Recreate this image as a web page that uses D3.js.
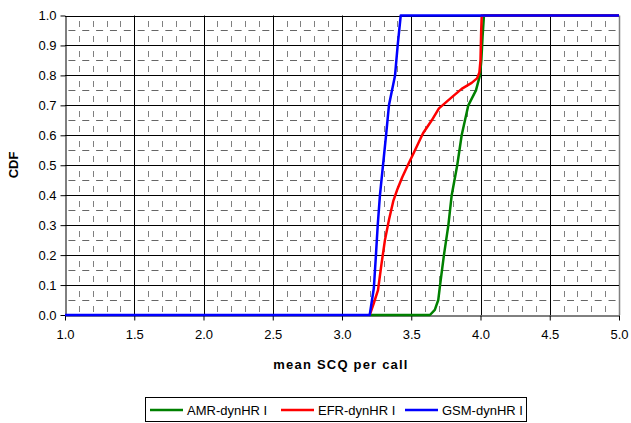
<!DOCTYPE html>
<html lang="en">
<head>
    <meta charset="utf-8">
    <title>CDF of mean SCQ per call</title>
    <script type="text/javascript" src="https://d3js.org/d3.v7.min.js"></script>
    <style type="text/css">
        body { margin: 0; overflow: hidden; background: #fff; }
        svg { display: block; }
        text { font-family: "Liberation Sans", Arial, sans-serif; }
    </style>
</head>
<body>
    <script type="text/javascript">
        // Series (x = mean SCQ, y = CDF)
        var amrX = [3.20, 3.635, 3.67, 3.695, 3.708, 3.736, 3.768, 3.792, 3.832, 3.864, 3.912, 3.967, 3.996, 4.006, 4.015, 4.025, 5.0];
        var amrY = [0, 0, 0.017, 0.05, 0.1, 0.2, 0.3, 0.4, 0.5, 0.6, 0.7, 0.75, 0.8, 0.85, 0.93, 1.0, 1.0];

        var efrX = [3.20, 3.23, 3.26, 3.285, 3.31, 3.34, 3.37, 3.40, 3.435, 3.47, 3.527, 3.585, 3.648, 3.70, 3.75, 3.80, 3.864, 3.936, 3.975, 3.992, 4.0, 4.005, 4.009, 5.0];
        var efrY = [0, 0.04, 0.083, 0.17, 0.25, 0.32, 0.38, 0.42, 0.46, 0.495, 0.55, 0.607, 0.65, 0.69, 0.71, 0.73, 0.755, 0.775, 0.79, 0.81, 0.85, 0.95, 1.0, 1.0];

        var gsmX = [1.0, 3.20, 3.23, 3.245, 3.258, 3.274, 3.296, 3.318, 3.339, 3.383, 3.402, 3.424, 5.0];
        var gsmY = [0, 0, 0.09, 0.2, 0.3, 0.4, 0.5, 0.6, 0.7, 0.8, 0.9, 1.0, 1.0];

        var seriesNames = ["AMR-dynHR I", "EFR-dynHR I", "GSM-dynHR I"];
        var seriesColors = ["#008000", "#ff0000", "#0000ff"];

        var xTicks = [1.0, 1.5, 2.0, 2.5, 3.0, 3.5, 4.0, 4.5, 5.0];
        var yTicks = [0.0, 0.1, 0.2, 0.3, 0.4, 0.5, 0.6, 0.7, 0.8, 0.9, 1.0];

        var width = 631, height = 423;
        var plotLeft = 65, plotRight = 619, plotTop = 15.5, plotBottom = 315;

        var svg = d3.select("body").append("svg")
            .attr("width", width)
            .attr("height", height);

        var x = d3.scaleLinear().domain([1, 5]).range([plotLeft, plotRight]);
        var y = d3.scaleLinear().domain([0, 1]).range([plotBottom, plotTop]);

        // minor gridlines (dashed grey)
        var minorX = d3.range(11, 50).map(function(d) { return d / 10; })
            .filter(function(d) { return Math.round(d * 10) % 5 !== 0; });
        var minorY = d3.range(0, 10).map(function(d) { return d / 10 + 0.05; });

        svg.append("g").selectAll("line")
            .data(minorX).enter().append("line")
            .attr("x1", function(d) { return Math.round(x(d)) + 0.5; })
            .attr("x2", function(d) { return Math.round(x(d)) + 0.5; })
            .attr("y1", plotBottom).attr("y2", plotTop)
            .attr("stroke", "#808080")
            .attr("stroke-dasharray", "6,9")
            .attr("stroke-dashoffset", -3);

        svg.append("g").selectAll("line")
            .data(minorY).enter().append("line")
            .attr("x1", plotLeft).attr("x2", plotRight)
            .attr("y1", function(d) { return Math.round(y(d)) + 0.5; })
            .attr("y2", function(d) { return Math.round(y(d)) + 0.5; })
            .attr("stroke", "#666")
            .attr("stroke-dasharray", "7,6.85")
            .attr("stroke-dashoffset", -3.4);

        // major gridlines
        svg.append("g").selectAll("line")
            .data(xTicks.slice(1)).enter().append("line")
            .attr("x1", function(d) { return Math.round(x(d)) + 0.5; })
            .attr("x2", function(d) { return Math.round(x(d)) + 0.5; })
            .attr("y1", plotBottom).attr("y2", plotTop)
            .attr("stroke", function(d) { return d === 5 ? "#808080" : "#000"; })
            .attr("stroke-width", function(d) { return d === 5 ? 1.5 : 1; });

        svg.append("g").selectAll("line")
            .data(yTicks.slice(1)).enter().append("line")
            .attr("x1", plotLeft).attr("x2", plotRight)
            .attr("y1", function(d) { return Math.round(y(d)) + 0.5; })
            .attr("y2", function(d) { return Math.round(y(d)) + 0.5; })
            .attr("stroke", "#000");

        // axes
        var xAxis = svg.append("g")
            .attr("transform", "translate(0," + (Math.round(plotBottom) + 0.5) + ")")
            .call(d3.axisBottom(x).tickValues(xTicks).tickSize(5).tickSizeOuter(0).tickFormat(d3.format(".1f")));
        xAxis.selectAll("text").attr("font-size", "13px").attr("dy", "1.2em").attr("fill", "#000");

        var yAxis = svg.append("g")
            .attr("transform", "translate(" + (plotLeft + 0.5) + ",0)")
            .call(d3.axisLeft(y).tickValues(yTicks).tickSize(5).tickSizeOuter(0).tickFormat(d3.format(".1f")));
        yAxis.selectAll("text").attr("font-size", "13px").attr("x", -9).attr("fill", "#000");
        svg.selectAll(".domain").attr("stroke", "#000");

        // curves
        var line = d3.line()
            .x(function(d) { return x(d[0]); })
            .y(function(d) { return y(d[1]); });

        var series = [
            d3.zip(amrX, amrY),
            d3.zip(efrX, efrY),
            d3.zip(gsmX, gsmY)
        ];

        svg.append("g").selectAll("path")
            .data(series).enter().append("path")
            .attr("d", line)
            .attr("fill", "none")
            .attr("stroke", function(d, i) { return seriesColors[i]; })
            .attr("stroke-width", 2.5)
            .attr("stroke-linejoin", "round");

        // axis titles
        svg.append("text")
            .attr("x", 341).attr("y", 369)
            .attr("text-anchor", "middle")
            .attr("font-size", "13px").attr("font-weight", "bold")
            .attr("letter-spacing", "1.2px")
            .text("mean SCQ per call");

        svg.append("text")
            .attr("transform", "translate(18,165) rotate(-90)")
            .attr("text-anchor", "middle")
            .attr("font-size", "13px").attr("font-weight", "bold")
            .text("CDF");

        // legend
        svg.append("rect")
            .attr("x", 145.5).attr("y", 397.5)
            .attr("width", 381).attr("height", 24)
            .attr("fill", "#fff").attr("stroke", "#000");

        var legendX = [150, 281, 405];
        var item = svg.append("g").selectAll("g")
            .data(seriesNames).enter().append("g")
            .attr("transform", function(d, i) { return "translate(" + legendX[i] + ",410)"; });
        item.append("line")
            .attr("x1", 0).attr("x2", 33)
            .attr("stroke", function(d, i) { return seriesColors[i]; })
            .attr("stroke-width", 2.5);
        item.append("text")
            .attr("x", 37).attr("dy", "0.36em")
            .attr("font-size", "13px")
            .text(function(d) { return d; });
    </script>
</body>
</html>
